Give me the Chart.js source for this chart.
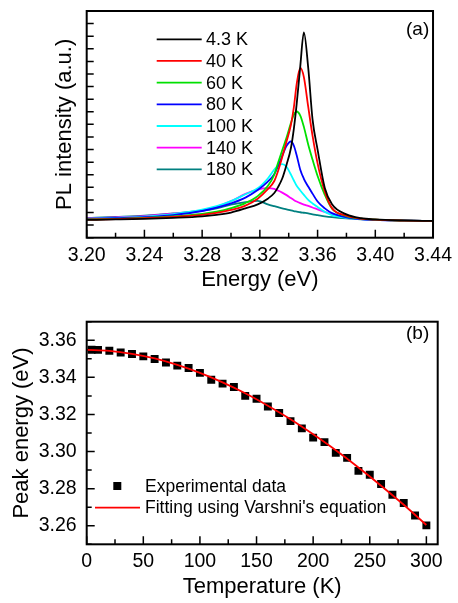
<!DOCTYPE html>
<html>
<head>
<meta charset="utf-8">
<script src="https://cdn.jsdelivr.net/npm/chart.js@4.4.0/dist/chart.umd.min.js"></script>
<style>
  body { margin: 0; background: #fff; }
  canvas { display: block; }
</style>
</head>
<body>
<canvas id="graficoPL" width="458" height="300"></canvas>
<canvas id="graficoPico" width="458" height="303"></canvas>
<script>
// painel (a): espectros de PL
const energies = [3.20, 3.22, 3.24, 3.26, 3.28, 3.29, 3.30, 3.31, 3.3185, 3.3255, 3.33, 3.3325, 3.3355, 3.3385,
  3.3415, 3.3435, 3.3455, 3.348, 3.3505, 3.3535, 3.3565, 3.36, 3.365, 3.37, 3.38, 3.39, 3.40, 3.42, 3.44];
const pl4K   = [1.41, 1.45, 1.50, 1.58, 1.70, 1.82, 2.00, 2.33, 2.65, 3.10, 3.55, 4.00, 4.70, 5.80, 7.10, 8.60, 10.6, 13.6, 16.3, 13.5, 9.40, 7.00, 3.95, 2.65, 1.85, 1.55, 1.45, 1.37, 1.33];
const pl40K  = [1.43, 1.48, 1.55, 1.66, 1.82, 1.97, 2.20, 2.55, 3.10, 3.85, 4.50, 5.25, 6.40, 7.65, 8.95, 10.3, 12.2, 13.48, 12.75, 10.4, 8.10, 5.90, 3.65, 2.35, 1.75, 1.52, 1.43, 1.36, 1.33];
const pl60K  = [1.45, 1.50, 1.58, 1.70, 1.90, 2.07, 2.35, 2.75, 3.30, 4.10, 5.00, 5.90, 6.95, 7.95, 9.10, 9.75, 10.02, 9.70, 8.80, 7.40, 6.20, 4.90, 3.40, 2.30, 1.72, 1.52, 1.43, 1.36, 1.33];
const pl80K  = [1.48, 1.55, 1.63, 1.80, 2.12, 2.38, 2.72, 3.18, 3.78, 4.45, 5.05, 5.65, 6.50, 7.30, 7.64, 7.32, 6.55, 5.40, 4.68, 4.06, 3.50, 2.87, 2.33, 1.95, 1.62, 1.48, 1.41, 1.36, 1.33];
const pl100K = [1.50, 1.58, 1.67, 1.87, 2.22, 2.50, 2.90, 3.45, 3.92, 4.70, 5.40, 5.72, 5.84, 5.62, 5.02, 4.56, 4.12, 3.75, 3.40, 3.00, 2.72, 2.44, 2.05, 1.80, 1.58, 1.47, 1.41, 1.36, 1.33];
const pl140K = [1.53, 1.62, 1.72, 1.90, 2.15, 2.45, 2.90, 3.48, 3.82, 3.93, 3.87, 3.75, 3.58, 3.38, 3.15, 3.00, 2.87, 2.74, 2.63, 2.52, 2.40, 2.25, 2.05, 1.85, 1.60, 1.48, 1.41, 1.36, 1.33];
const pl180K = [1.55, 1.65, 1.76, 1.93, 2.15, 2.33, 2.62, 2.82, 2.92, 2.65, 2.50, 2.42, 2.33, 2.25, 2.16, 2.11, 2.07, 2.02, 1.98, 1.93, 1.85, 1.79, 1.70, 1.63, 1.53, 1.46, 1.42, 1.36, 1.33];
const tempLabels = ['4.3 K', '40 K', '60 K', '80 K', '100 K', '140 K', '180 K'];
const energyTicks = [3.20, 3.24, 3.28, 3.32, 3.36, 3.40, 3.44];
const intensityTicks = [0, 1, 2, 3, 4, 5, 6, 7, 8, 9, 10, 11, 12, 13, 14, 15, 16, 17, 18];

// painel (b): energia do pico
const tempsExp = [4.3, 10, 20, 30, 40, 50, 60, 70, 80, 90, 100, 110, 120, 130, 140, 150, 160, 170, 180, 190,
  200, 210, 220, 230, 240, 250, 260, 270, 280, 290, 300];
const peakExp = [3.3549, 3.3548, 3.3543, 3.3534, 3.3526, 3.3513, 3.3499, 3.3480, 3.3463, 3.3450, 3.3424,
  3.3387, 3.3366, 3.3348, 3.3300, 3.3285, 3.3243, 3.3208, 3.3164, 3.3125, 3.3075, 3.3051, 3.2993, 3.2966,
  3.2896, 3.2875, 3.2825, 3.2767, 3.2723, 3.2655, 3.2602];
const tempsFit = [0, 20, 40, 60, 80, 100, 120, 140, 160, 180, 200, 220, 240, 260, 280, 300];
const peakFit = [3.3548, 3.3543, 3.3527, 3.3502, 3.3467, 3.3424, 3.3373, 3.3314, 3.3247, 3.3174, 3.3093,
  3.3007, 3.2914, 3.2816, 3.2713, 3.2604];
const tempTicks = [0, 50, 100, 150, 200, 250, 300];
const peakTicks = [3.26, 3.28, 3.30, 3.32, 3.34, 3.36];

const FONT = "'Liberation Sans', Arial, sans-serif";
Chart.defaults.font.family = FONT;
Chart.defaults.color = '#000';

const colors = ['#000000', '#ff0000', '#00e000', '#0000ff', '#00ffff', '#ff00ff', '#008080'];
const plSeries = [pl4K, pl40K, pl60K, pl80K, pl100K, pl140K, pl180K];

// marcas para dentro + moldura
function inwardTicks(yMinor) {
  return {
    id: 'inwardTicks',
    afterDraw(chart) {
      const { ctx, chartArea: a, scales } = chart;
      const mids = (vals) => {
        const out = [];
        const step = vals[1] - vals[0];
        for (let i = -1; i < vals.length; i++) {
          out.push((i < 0 ? vals[0] - step : vals[i]) + step / 2);
        }
        return out;
      };
      const inRange = (s, v) => v >= s.min - 1e-9 && v <= s.max + 1e-9;
      ctx.save();
      ctx.strokeStyle = '#000';
      ctx.lineWidth = 1.5;
      ctx.beginPath();
      const xs = scales.x, ys = scales.y;
      const xv = xs.ticks.map(t => t.value), yv = ys.ticks.map(t => t.value);
      xv.forEach(v => { const p = xs.getPixelForValue(v); ctx.moveTo(p, a.bottom); ctx.lineTo(p, a.bottom - 8); });
      mids(xv).filter(v => inRange(xs, v)).forEach(v => { const p = xs.getPixelForValue(v); ctx.moveTo(p, a.bottom); ctx.lineTo(p, a.bottom - 5); });
      yv.forEach(v => { const p = ys.getPixelForValue(v); ctx.moveTo(a.left, p); ctx.lineTo(a.left + (yMinor ? 8 : 7), p); });
      if (yMinor) {
        mids(yv).filter(v => inRange(ys, v)).forEach(v => { const p = ys.getPixelForValue(v); ctx.moveTo(a.left, p); ctx.lineTo(a.left + 5, p); });
      }
      ctx.stroke();
      ctx.lineWidth = 2;
      ctx.strokeRect(a.left, a.top, a.width, a.height);
      ctx.restore();
    }
  };
}

const legendA = {
  id: 'legendA',
  afterDraw(chart) {
    const ctx = chart.ctx;
    ctx.save();
    ctx.font = '18px ' + FONT;
    ctx.textBaseline = 'middle';
    ctx.fillStyle = '#000';
    chart.data.datasets.forEach((ds, i) => {
      const y = 39.3 + i * 21.67;
      ctx.strokeStyle = ds.borderColor;
      ctx.lineWidth = 1.8;
      ctx.beginPath();
      ctx.moveTo(156.7, y);
      ctx.lineTo(201.7, y);
      ctx.stroke();
      ctx.fillText(ds.label, 206, y + 1);
    });
    ctx.font = '19px ' + FONT;
    ctx.fillText('(a)', 406, 30);
    ctx.restore();
  }
};

const legendB = {
  id: 'legendB',
  afterDraw(chart) {
    const ctx = chart.ctx;
    const [fit, exp] = chart.data.datasets;
    ctx.save();
    ctx.font = '17.5px ' + FONT;
    ctx.textBaseline = 'middle';
    ctx.fillStyle = '#000';
    ctx.fillRect(113.3, 182, 8, 8);
    ctx.fillText(exp.label, 145, 187);
    ctx.strokeStyle = fit.borderColor;
    ctx.lineWidth = 1.8;
    ctx.beginPath();
    ctx.moveTo(95, 207.7);
    ctx.lineTo(140, 207.7);
    ctx.stroke();
    ctx.fillText(fit.label, 145, 208.5);
    ctx.font = '19px ' + FONT;
    ctx.fillText('(b)', 406, 33.3);
    ctx.restore();
  }
};

new Chart(document.getElementById('graficoPL'), {
  type: 'line',
  data: {
    datasets: plSeries.map((serie, k) => ({
      label: tempLabels[k],
      data: energies.map((e, i) => ({ x: e, y: serie[i] })),
      borderColor: colors[k],
      borderWidth: 1.8,
      pointRadius: 0,
      fill: false,
      cubicInterpolationMode: 'monotone'
    }))
  },
  options: {
    responsive: false,
    animation: false,
    events: [],
    layout: { padding: { top: 11, right: 20.3, left: 0, bottom: 0 } },
    plugins: { legend: { display: false }, tooltip: { enabled: false } },
    scales: {
      x: {
        type: 'linear',
        min: 3.20,
        max: 3.44,
        afterBuildTicks: s => { s.ticks = energyTicks.map(v => ({ value: v })); },
        afterFit: s => { s.height = 62.3; },
        ticks: { callback: v => v.toFixed(2), font: { size: 19.5 }, color: '#000', padding: 6, maxRotation: 0, autoSkip: false },
        grid: { display: false, drawTicks: false },
        border: { display: false },
        title: { display: true, text: 'Energy (eV)', font: { size: 22 }, color: '#000', padding: { top: 0, bottom: 6.8 } }
      },
      y: {
        type: 'linear',
        min: 0,
        max: 18,
        afterBuildTicks: s => { s.ticks = intensityTicks.map(v => ({ value: v })); },
        afterFit: s => { s.width = 86.7; },
        ticks: { display: false },
        grid: { display: false, drawTicks: false },
        border: { display: false },
        title: { display: true, text: 'PL intensity (a.u.)', font: { size: 22 }, color: '#000', padding: { top: 51.8, bottom: 0 } }
      }
    }
  },
  plugins: [inwardTicks(false), legendA]
});

new Chart(document.getElementById('graficoPico'), {
  type: 'scatter',
  data: {
    datasets: [
      {
        label: "Fitting using Varshni's equation",
        data: tempsFit.map((t, i) => ({ x: t, y: peakFit[i] })),
        showLine: true,
        borderColor: '#ff0000',
        borderWidth: 1.8,
        pointRadius: 0,
        cubicInterpolationMode: 'monotone',
        order: 0
      },
      {
        label: 'Experimental data',
        data: tempsExp.map((t, i) => ({ x: t, y: peakExp[i] })),
        showLine: false,
        pointStyle: 'rect',
        pointRadius: 5.6,
        backgroundColor: '#000',
        borderColor: '#000',
        borderWidth: 0,
        order: 1
      }
    ]
  },
  options: {
    responsive: false,
    animation: false,
    events: [],
    layout: { padding: { top: 17.3, right: 20.3, left: 0, bottom: 0 } },
    plugins: { legend: { display: false }, tooltip: { enabled: false } },
    scales: {
      x: {
        type: 'linear',
        min: 0,
        max: 310,
        afterBuildTicks: s => { s.ticks = tempTicks.map(v => ({ value: v })); },
        afterFit: s => { s.height = 58.7; },
        ticks: { font: { size: 19.5 }, color: '#000', padding: 6, maxRotation: 0, autoSkip: false },
        grid: { display: false, drawTicks: false },
        border: { display: false },
        title: { display: true, text: 'Temperature (K)', font: { size: 22 }, color: '#000', padding: { top: 0, bottom: 2.5 } }
      },
      y: {
        type: 'linear',
        min: 3.25,
        max: 3.37,
        afterBuildTicks: s => { s.ticks = peakTicks.map(v => ({ value: v })); },
        afterFit: s => { s.width = 86.7; },
        ticks: { callback: v => v.toFixed(2), font: { size: 19.5 }, color: '#000', padding: 10 },
        grid: { display: false, drawTicks: false },
        border: { display: false },
        title: { display: true, text: 'Peak energy (eV)', font: { size: 22 }, color: '#000', padding: { top: 8.5, bottom: 0 } }
      }
    }
  },
  plugins: [inwardTicks(true), legendB]
});
</script>
</body>
</html>
